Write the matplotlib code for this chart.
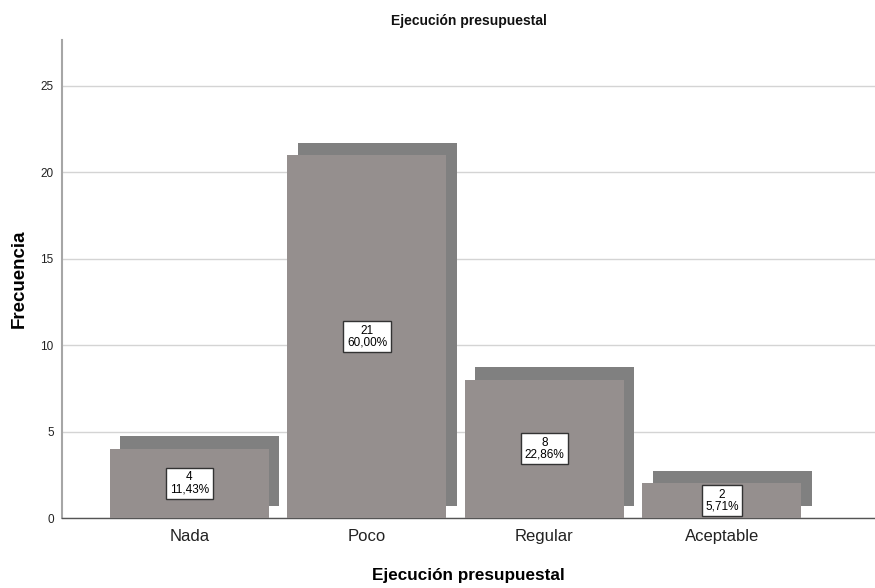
import numpy as np
import matplotlib.pyplot as plt

plt.rcParams['font.family'] = ['Liberation Sans', 'DejaVu Sans']

# Data
categorias = ['Nada', 'Poco', 'Regular', 'Aceptable']
frecuencias = [4, 21, 8, 2]
porcentajes = ['11,43%', '60,00%', '22,86%', '5,71%']

x = np.arange(len(categorias))
ancho = 0.896
dx, dy = 0.057, 0.72   # desplazamiento de la sombra 3D

fig = plt.figure(figsize=(8.75, 5.88), dpi=100)
ax = fig.add_axes([0.0709, 0.119, 0.929, 0.813])

# sombra
ax.bar(x + dx, frecuencias, width=ancho, bottom=dy, color='#808080',
       edgecolor='none', zorder=2)
# barra frontal
ax.bar(x, frecuencias, width=ancho, color='#958f8e', edgecolor='none', zorder=3)

for xi, f, p in zip(x, frecuencias, porcentajes):
    ax.text(xi, f / 2, f'{f}\n{p}', ha='center', va='center', fontsize=8.5,
            linespacing=1.0, zorder=4,
            bbox=dict(boxstyle='square,pad=0.3', facecolor='white',
                      edgecolor='#333333', linewidth=1.0))

ax.set_xlim(-0.718, 3.862)
ax.set_ylim(0, 27.66)
ax.set_yticks([0, 5, 10, 15, 20, 25])
ax.set_xticks(x)
ax.set_xticklabels(categorias, fontsize=12, color='#222222')
ax.tick_params(axis='y', length=0, labelsize=8.5, pad=6, colors='#222222')
ax.tick_params(axis='x', length=0, pad=8)

ax.yaxis.grid(True, color='#d4d4d4', linewidth=1.0, zorder=0)
ax.set_axisbelow(True)

for s in ['top', 'right']:
    ax.spines[s].set_visible(False)
ax.spines['left'].set_color('#a6a6a6')
ax.spines['left'].set_linewidth(1.5)
ax.spines['bottom'].set_color('#555555')
ax.spines['bottom'].set_linewidth(1.0)

ax.set_title('Ejecución presupuestal', fontsize=10, fontweight='bold',
             pad=11, color='#111111')
ax.set_xlabel('Ejecución presupuestal', fontsize=12.3, fontweight='bold',
              labelpad=17)
ax.set_ylabel('Frecuencia', fontsize=13.5, fontweight='bold', labelpad=9)

fig.savefig('out.png', dpi=100)
